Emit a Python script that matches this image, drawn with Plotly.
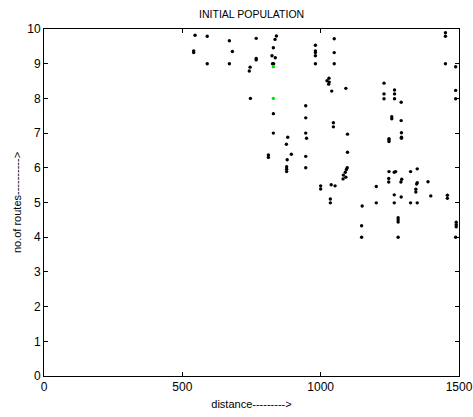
import plotly.graph_objects as go

# black population points (distance, no. of routes)
dist_black = [546, 590, 670, 767, 840, 835, 541, 541, 681, 829, 824, 836, 767, 767,
              590, 670, 826, 830, 745, 742, 746, 829, 829,
              981, 981, 981, 981, 1049, 1049, 981, 1049,
              1023, 1030, 1031, 1029, 1040, 1091, 946, 946, 1046, 1046, 946, 1097, 881, 949,
              1451, 1451, 1451, 1488, 1229, 1267, 1267, 1267, 1229, 1229, 1488, 1488, 1291,
              1257, 1257, 1291, 1292, 1292, 1292, 1247,
              811, 811, 876, 894, 946, 1097, 879, 877, 877, 877, 946, 1096, 1093, 1089,
              1082, 1081, 1091, 1000, 1000, 1038, 1052, 1035, 1035, 1150,
              1247, 1247, 1247, 1266, 1271, 1325, 1349, 1246, 1246, 1293, 1290, 1349, 1347,
              1388, 1201, 1344, 1344, 1266, 1291, 1398, 1458, 1458, 1201, 1266, 1325, 1349,
              1280, 1280, 1280, 1148, 1490, 1490, 1490, 1148, 1280, 1488]
routes_black = [9.82, 9.79, 9.66, 9.73, 9.80, 9.70, 9.37, 9.32, 9.35, 9.46, 9.23, 9.17, 9.15, 9.11,
                9.0, 9.0, 9.0, 9.0, 8.90, 8.79, 8.0, 7.56, 7.0,
                9.53, 9.37, 9.32, 9.23, 9.72, 9.32, 9.0, 9.0,
                8.51, 8.58, 8.47, 8.41, 8.21, 8.29, 7.79, 7.44, 7.30, 7.18, 7.0, 6.97, 6.88, 6.85,
                9.89, 9.79, 9.0, 8.91, 8.44, 8.24, 8.13, 7.99, 8.13, 7.99, 8.23, 7.99, 7.89,
                7.47, 7.41, 7.36, 7.01, 6.88, 6.85, 6.84,
                6.37, 6.30, 6.68, 6.39, 6.33, 6.45, 6.23, 6.03, 5.96, 5.89, 6.0, 6.0, 5.95, 5.87,
                5.79, 5.68, 5.73, 5.48, 5.39, 5.51, 5.48, 5.10, 4.99, 4.90,
                6.81, 6.76, 5.89, 5.87, 5.89, 5.89, 5.97, 5.69, 5.59, 5.67, 5.59, 5.57, 5.53,
                5.60, 5.46, 5.38, 5.30, 5.22, 5.16, 5.19, 5.21, 5.12, 4.99, 4.99, 4.99, 4.99,
                4.56, 4.50, 4.44, 4.33, 4.43, 4.36, 4.30, 4.0, 4.0, 4.0]

# highlighted (green) points
dist_green = [829, 829]
routes_green = [8.91, 8.0]

x_ticks = [0, 500, 1000, 1500]
y_ticks = [0, 1, 2, 3, 4, 5, 6, 7, 8, 9, 10]

fig = go.Figure()
fig.add_trace(go.Scatter(x=dist_black, y=routes_black, mode="markers",
                         marker=dict(color="black", size=3.4), showlegend=False))
fig.add_trace(go.Scatter(x=dist_green, y=routes_green, mode="markers",
                         marker=dict(color="#00e600", size=3.4), showlegend=False))

font_family = "Liberation Sans, Arial, sans-serif"
axis_common = dict(showgrid=False, zeroline=False, showline=True, linecolor="black",
                   linewidth=1, mirror="allticks", ticks="inside", ticklen=4,
                   tickcolor="black", automargin=False,
                   tickfont=dict(size=12, color="black", family=font_family))

fig.update_layout(
    width=473, height=417,
    margin=dict(l=44, r=14, t=29, b=41),
    paper_bgcolor="white", plot_bgcolor="white",
    font=dict(family=font_family, color="black"),
    title=dict(text="INITIAL POPULATION", x=0.532, xanchor="center",
               y=1 - 14 / 417, yanchor="middle",
               font=dict(size=10.5, color="black", family=font_family)),
    xaxis=dict(range=[0, 1500], tickvals=x_ticks, ticktext=[str(v) for v in x_ticks],
               title=dict(text="distance--------->", standoff=6,
                          font=dict(size=11, color="black", family=font_family)),
               **axis_common),
    yaxis=dict(range=[0, 10], tickvals=y_ticks, ticktext=[str(v) for v in y_ticks],
               title=dict(text="no.of routes---------->", standoff=3,
                          font=dict(size=11, color="black", family=font_family)),
               **axis_common),
)

fig.write_html("out.html", config={"displayModeBar": False},
               post_script="document.body.style.margin='0';document.body.style.padding='0';")
